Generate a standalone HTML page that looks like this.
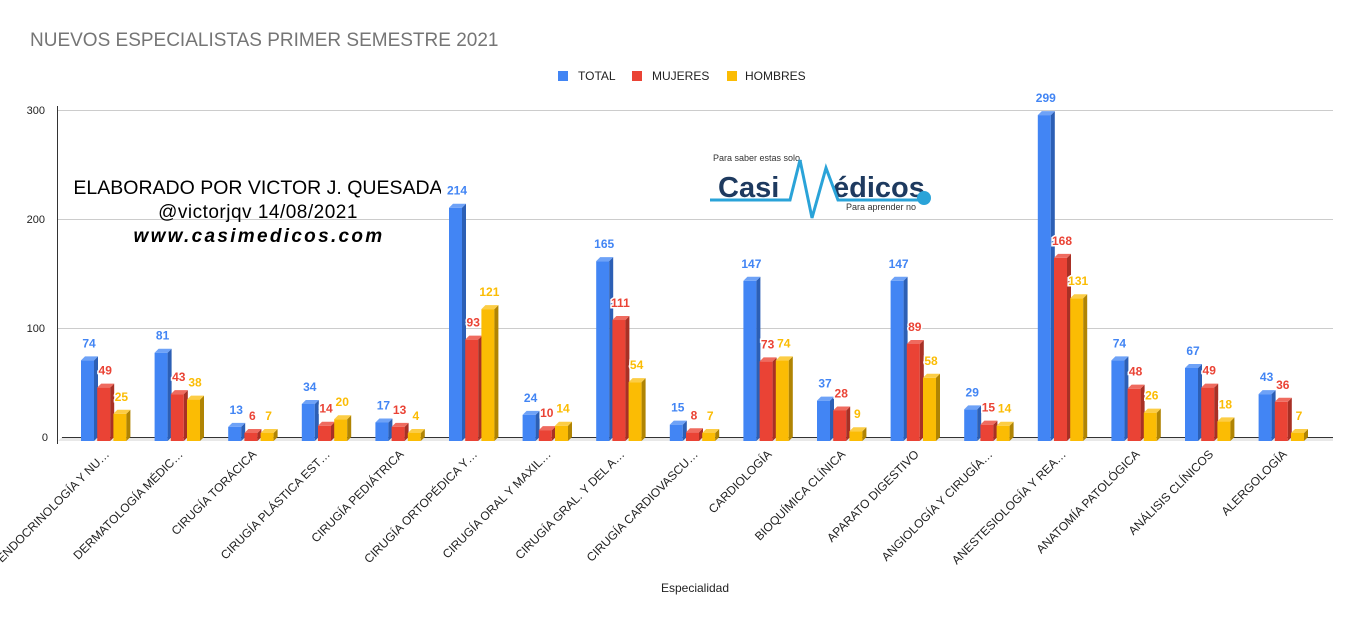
<!DOCTYPE html>
<html><head><meta charset="utf-8"><style>
body{margin:0;background:#fff;width:1366px;height:625px;overflow:hidden;font-family:"Liberation Sans",Arial,sans-serif}
</style></head><body>
<svg id="s" width="1366" height="625" xmlns="http://www.w3.org/2000/svg" font-family="Liberation Sans, Arial, sans-serif">
<rect width="1366" height="625" fill="#fff"/>
<text x="30" y="46" font-size="19" fill="#757575">NUEVOS ESPECIALISTAS PRIMER SEMESTRE 2021</text>
<rect x="558" y="71" width="10" height="10" fill="#4285f4"/><text x="578" y="80" font-size="12" fill="#222">TOTAL</text>
<rect x="632" y="71" width="10" height="10" fill="#ea4335"/><text x="652" y="80" font-size="12" fill="#222">MUJERES</text>
<rect x="727" y="71" width="10" height="10" fill="#fbbc04"/><text x="745" y="80" font-size="12" fill="#222">HOMBRES</text>
<g stroke="#ccc" stroke-width="1">
<line x1="58" y1="110.5" x2="1333" y2="110.5"/><line x1="58" y1="219.5" x2="1333" y2="219.5"/><line x1="58" y1="328.5" x2="1333" y2="328.5"/>
</g>
<line x1="57.5" y1="106" x2="57.5" y2="444" stroke="#333"/>
<polygon points="58,441 62,437 1333,437 1333,441" fill="#e8e8e8"/>
<line x1="62" y1="437.5" x2="1333" y2="437.5" stroke="#333"/>
<g font-size="11" fill="#222" text-anchor="end">
<text x="45" y="114">300</text><text x="45" y="223">200</text><text x="45" y="332">100</text><text x="48" y="441">0</text>
</g>
<g id="bars"></g>
<clipPath id="c"><rect x="75" y="160" width="366" height="40"/></clipPath>
<text x="258" y="194" font-size="19.5" fill="#000" text-anchor="middle" clip-path="url(#c)">ELABORADO POR VICTOR J. QUESADA</text>
<text x="258" y="218" font-size="19" letter-spacing="0.5" fill="#000" text-anchor="middle">@victorjqv 14/08/2021</text>
<text x="259" y="242" font-size="19" letter-spacing="2.3" fill="#000" text-anchor="middle" font-weight="bold" font-style="italic">www.casimedicos.com</text>
<g>
<text x="713" y="161" font-size="9" fill="#333">Para saber estas solo.</text>
<text x="718" y="197" font-size="29" font-weight="bold" fill="#1e3a5f">Casi</text>
<text x="833" y="197" font-size="29" font-weight="bold" fill="#1e3a5f">édicos</text>
<polyline points="710,200 790,200 800,160 812,218 826,168 838,200 925,200" fill="none" stroke="#2aa3d8" stroke-width="3"/>
<circle cx="924" cy="198" r="7" fill="#2aa3d8"/>
<text x="846" y="210" font-size="9" fill="#333">Para aprender no</text>
</g>
<text x="695" y="592" font-size="12" fill="#222" text-anchor="middle">Especialidad</text>
<g id="labels" font-size="12" fill="#222"></g>
</svg>
<script>
var d=[["ENDOCRINOLOGÍA Y NU…",74,49,25],["DERMATOLOGÍA MÉDIC…",81,43,38],["CIRUGÍA TORÁCICA",13,6,7],["CIRUGÍA PLÁSTICA EST…",34,14,20],["CIRUGÍA PEDIÁTRICA",17,13,4],["CIRUGÍA ORTOPÉDICA Y…",214,93,121],["CIRUGÍA ORAL Y MAXIL…",24,10,14],["CIRUGÍA GRAL. Y DEL A…",165,111,54],["CIRUGÍA CARDIOVASCU…",15,8,7],["CARDIOLOGÍA",147,73,74],["BIOQUÍMICA CLÍNICA",37,28,9],["APARATO DIGESTIVO",147,89,58],["ANGIOLOGÍA Y CIRUGÍA…",29,15,14],["ANESTESIOLOGÍA Y REA…",299,168,131],["ANATOMÍA PATOLÓGICA",74,48,26],["ANÁLISIS CLÍNICOS",67,49,18],["ALERGOLOGÍA",43,36,7]];
var col=[["#4285f4","#2c5fb5","#6ea2f7"],["#ea4335","#a83025","#ef6b5f"],["#fbbc04","#b08403","#fccd45"]];
var h="",l="",S=1.09,B=441;
d.forEach(function(r,i){
 var gx=81+i*73.6;
 for(var k=0;k<3;k++){
  var x=gx+k*16.2,w=13,top=B-r[k+1]*S; if(top>B-8)top=B-8;
  var c=col[k];
  h+='<rect x="'+x+'" y="'+top+'" width="'+w+'" height="'+(B-top)+'" fill="'+c[0]+'"/>';
  h+='<polygon points="'+(x+w)+','+top+' '+(x+w+4)+','+(top-4)+' '+(x+w+4)+','+(B-4)+' '+(x+w)+','+B+'" fill="'+c[1]+'"/>';
  h+='<polygon points="'+x+','+top+' '+(x+4)+','+(top-4)+' '+(x+w+4)+','+(top-4)+' '+(x+w)+','+top+'" fill="'+c[2]+'"/>';
  h+='<text x="'+(x+8)+'" y="'+(top-13)+'" font-size="12" font-weight="bold" text-anchor="middle" fill="'+c[0]+'" stroke="#fff" stroke-width="3" paint-order="stroke">'+r[k+1]+'</text>';
 }
 var tx=gx+29,ty=455;
 l+='<text transform="translate('+tx+','+ty+') rotate(-45)" text-anchor="end">'+r[0]+'</text>';
});
document.getElementById("bars").innerHTML=h;
document.getElementById("labels").innerHTML=l;
</script>
</body></html>
